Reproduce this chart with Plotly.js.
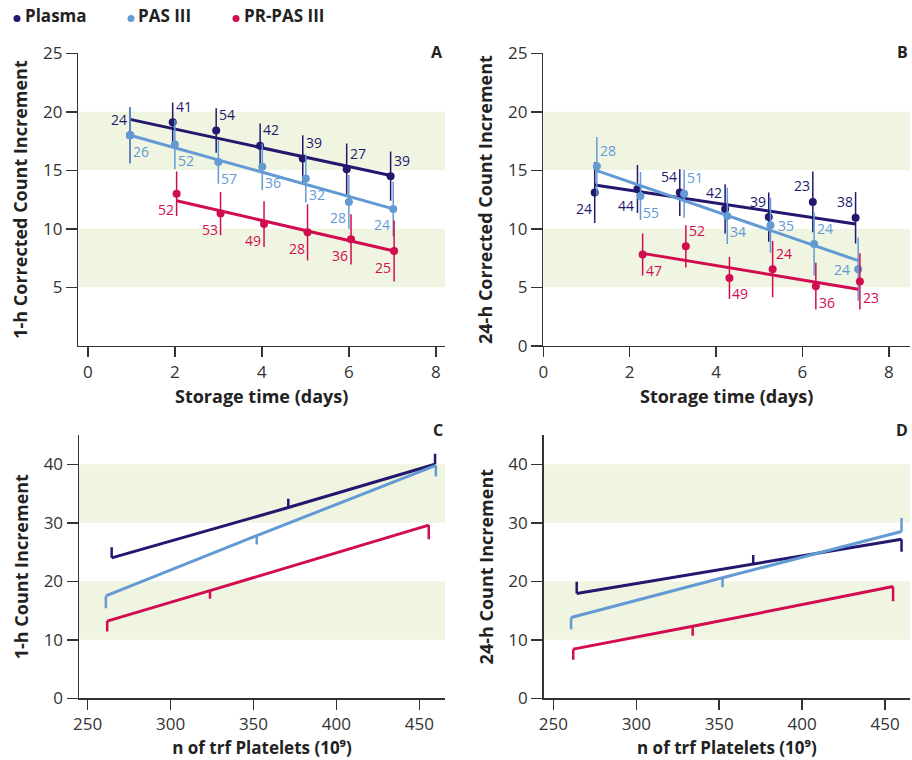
<!DOCTYPE html>
<html>
<head>
<meta charset="utf-8">
<script src="https://cdn.plot.ly/plotly-3.0.1.min.js"></script>
<style>html,body{margin:0;padding:0;background:#fff}#chart{width:912px;height:760px}</style>
</head>
<body>
<div id="chart"></div>
<script>
// ---------- DATA ----------
const seriesNames = ["Plasma", "PAS III", "PR-PAS III"];

// Panel A: 1-h CCI vs storage time
const plasmaA_x = [0.97, 1.95, 2.95, 3.96, 4.94, 5.95, 6.96];
const plasmaA_y = [18.0, 19.1, 18.4, 17.1, 16.0, 15.1, 14.5];
const plasmaA_sd = [2.4, 1.7, 1.9, 1.9, 2.0, 2.2, 2.1];
const plasmaA_n = [24, 41, 54, 42, 39, 27, 39];
const plasmaA_fitX = [0.97, 6.96];
const plasmaA_fitY = [19.35, 14.55];

const pasA_x = [0.97, 2.0, 3.0, 4.01, 5.01, 6.0, 7.02];
const pasA_y = [18.0, 17.2, 15.7, 15.3, 14.3, 12.3, 11.7];
const pasA_sd = [2.4, 2.1, 1.85, 2.0, 2.05, 2.3, 2.35];
const pasA_n = [26, 52, 57, 36, 32, 28, 24];
const pasA_fitX = [0.97, 7.02];
const pasA_fitY = [18.0, 11.7];

const prA_x = [2.04, 3.05, 4.05, 5.05, 6.05, 7.04];
const prA_y = [13.0, 11.3, 10.4, 9.7, 9.1, 8.1];
const prA_sd = [1.9, 1.85, 1.95, 2.4, 2.15, 2.6];
const prA_n = [52, 53, 49, 28, 36, 25];
const prA_fitX = [2.04, 7.04];
const prA_fitY = [12.4, 8.1];

// Panel B: 24-h CCI vs storage time
const plasmaB_x = [1.19, 2.18, 3.16, 4.21, 5.22, 6.24, 7.23];
const plasmaB_y = [13.1, 13.4, 13.1, 11.7, 11.0, 12.3, 10.95];
const plasmaB_sd = [2.6, 2.05, 2.0, 2.1, 2.1, 2.6, 2.2];
const plasmaB_n = [24, 44, 54, 42, 39, 23, 38];
const plasmaB_fitX = [1.19, 7.23];
const plasmaB_fitY = [13.74, 10.41];

const pasB_x = [1.24, 2.25, 3.26, 4.26, 5.26, 6.27, 7.29];
const pasB_y = [15.35, 12.8, 13.0, 11.1, 10.3, 8.7, 6.55];
const pasB_sd = [2.5, 2.05, 2.05, 2.4, 2.35, 2.7, 2.7];
const pasB_n = [28, 55, 51, 34, 35, 24, 24];
const pasB_fitX = [1.24, 7.29];
const pasB_fitY = [14.97, 7.28];

const prB_x = [2.3, 3.3, 4.31, 5.31, 6.31, 7.33];
const prB_y = [7.8, 8.5, 5.8, 6.55, 5.1, 5.5];
const prB_sd = [1.8, 1.8, 1.8, 2.4, 2.0, 2.4];
const prB_n = [47, 52, 49, 24, 36, 23];
const prB_fitX = [2.3, 7.29];
const prB_fitY = [7.9, 4.83];

// Panel C: 1-h CI vs number of transfused platelets
const plasmaC_x = [264.5, 371, 459.5];
const plasmaC_y = [24.0, 32.6, 40.0];
const plasmaC_up = [1.8, 1.5, 1.8];
const plasmaC_down = [0, 0, 0];
const pasC_x = [261, 352, 460];
const pasC_y = [17.5, 27.8, 39.8];
const pasC_up = [0, 0, 0];
const pasC_down = [2.1, 1.5, 1.9];
const prC_x = [261.8, 323.8, 455.7];
const prC_y = [13.2, 18.4, 29.6];
const prC_up = [0, 0, 0];
const prC_down = [1.8, 1.4, 2.4];

// Panel D: 24-h CI vs number of transfused platelets
const plasmaD_x = [264.1, 370.5, 459.9];
const plasmaD_y = [17.9, 23.0, 27.2];
const plasmaD_up = [2.0, 1.5, 0];
const plasmaD_down = [0, 0, 2.15];
const pasD_x = [260.7, 352, 459.9];
const pasD_y = [13.8, 20.6, 28.5];
const pasD_up = [0, 0, 2.3];
const pasD_down = [2.0, 1.6, 0];
const prD_x = [262, 334, 454.8];
const prD_y = [8.4, 12.3, 19.1];
const prD_up = [0, 0, 0];
const prD_down = [1.8, 1.6, 2.5];

// reference bands
const bandsTop = [[5, 10], [15, 20]];
const bandsBottom = [[10, 20], [30, 40]];

// tick values
const timeTicks = [0, 2, 4, 6, 8];
const cciTicksA = [5, 10, 15, 20, 25];
const cciTicksB = [0, 5, 10, 15, 20, 25];
const pltTicks = [250, 300, 350, 400, 450];
const ciTicks = [0, 10, 20, 30, 40];

// ---------- STYLE ----------
const COL = {plasma: "#23186e", pas: "#639ad4", pr: "#d20c50"};
const BAND = "#f0f5e2";
const AX = "#333333";
const FONT = "'Open Sans', 'Noto Sans', sans-serif";

// label placement (style only): U/D = above/below marker, L/R = side
const placeA = {
  plasma: ["UL", "UR", "UR", "UR", "UR", "UR", "UR"],
  pas: ["DR", "DR", "DR", "DR", "DR", "DL", "DL"],
  pr: ["DL", "DL", "DL", "DL", "DL", "DL"]
};
const placeB = {
  plasma: ["DL", "DL", "UL", "UL", "UL", "UL", "UL"],
  pas: ["UR", "DR", "UR", "DR", "R", "UR", "L"],
  pr: ["DR", "UR", "DR", "UR", "DR", "DR"]
};

const traces = [];
const annotations = [];

function addTimeSeries(xa, ya, x, y, sd, fx, fy, color, name) {
  traces.push({type: "scatter", mode: "lines", x: fx, y: fy, xaxis: xa, yaxis: ya,
    line: {color: color, width: 3}, showlegend: false, hoverinfo: "skip"});
  traces.push({type: "scatter", mode: "markers", x: x, y: y, xaxis: xa, yaxis: ya, name: name,
    marker: {color: color, size: 8},
    error_y: {type: "data", array: sd, visible: true, width: 0, thickness: 1.5, color: color},
    showlegend: false});
}
function addLabels(xa, ya, x, y, n, place, color) {
  for (let i = 0; i < x.length; i++) {
    const p = place[i];
    const h = p[p.length - 1];
    const v = p.length > 1 ? p[0] : "";
    annotations.push({xref: xa, yref: ya, x: x[i], y: y[i], text: String(n[i]), showarrow: false,
      xanchor: h === "L" ? "right" : "left",
      yanchor: "middle",
      xshift: (h === "L" ? -1 : 1) * (v ? 1 : 6),
      yshift: v === "U" ? 16 : (v === "D" ? -16 : 0),
      font: {family: FONT, size: 14, color: color}});
  }
}
function addPlateletSeries(xa, ya, x, y, up, down, color, name) {
  traces.push({type: "scatter", mode: "lines", x: x, y: y, xaxis: xa, yaxis: ya, name: name,
    line: {color: color, width: 3},
    error_y: {type: "data", symmetric: false, array: up, arrayminus: down, visible: true,
      width: 0, thickness: 2.5, color: color},
    showlegend: false});
}

// Panel A
addTimeSeries("x", "y", plasmaA_x, plasmaA_y, plasmaA_sd, plasmaA_fitX, plasmaA_fitY, COL.plasma, seriesNames[0]);
addTimeSeries("x", "y", pasA_x, pasA_y, pasA_sd, pasA_fitX, pasA_fitY, COL.pas, seriesNames[1]);
addTimeSeries("x", "y", prA_x, prA_y, prA_sd, prA_fitX, prA_fitY, COL.pr, seriesNames[2]);
addLabels("x", "y", plasmaA_x, plasmaA_y, plasmaA_n, placeA.plasma, COL.plasma);
addLabels("x", "y", pasA_x, pasA_y, pasA_n, placeA.pas, COL.pas);
addLabels("x", "y", prA_x, prA_y, prA_n, placeA.pr, COL.pr);

// Panel B
addTimeSeries("x2", "y2", plasmaB_x, plasmaB_y, plasmaB_sd, plasmaB_fitX, plasmaB_fitY, COL.plasma, seriesNames[0]);
addTimeSeries("x2", "y2", pasB_x, pasB_y, pasB_sd, pasB_fitX, pasB_fitY, COL.pas, seriesNames[1]);
addTimeSeries("x2", "y2", prB_x, prB_y, prB_sd, prB_fitX, prB_fitY, COL.pr, seriesNames[2]);
addLabels("x2", "y2", plasmaB_x, plasmaB_y, plasmaB_n, placeB.plasma, COL.plasma);
addLabels("x2", "y2", pasB_x, pasB_y, pasB_n, placeB.pas, COL.pas);
addLabels("x2", "y2", prB_x, prB_y, prB_n, placeB.pr, COL.pr);

// Panel C
addPlateletSeries("x3", "y3", plasmaC_x, plasmaC_y, plasmaC_up, plasmaC_down, COL.plasma, seriesNames[0]);
addPlateletSeries("x3", "y3", pasC_x, pasC_y, pasC_up, pasC_down, COL.pas, seriesNames[1]);
addPlateletSeries("x3", "y3", prC_x, prC_y, prC_up, prC_down, COL.pr, seriesNames[2]);

// Panel D
addPlateletSeries("x4", "y4", plasmaD_x, plasmaD_y, plasmaD_up, plasmaD_down, COL.plasma, seriesNames[0]);
addPlateletSeries("x4", "y4", pasD_x, pasD_y, pasD_up, pasD_down, COL.pas, seriesNames[1]);
addPlateletSeries("x4", "y4", prD_x, prD_y, prD_up, prD_down, COL.pr, seriesNames[2]);

// bands
const shapes = [];
function addBands(xa, ya, bands) {
  bands.forEach(b => shapes.push({type: "rect", xref: xa + " domain", yref: ya, x0: 0, x1: 1,
    y0: b[0], y1: b[1], fillcolor: BAND, line: {width: 0}, layer: "below"}));
}
addBands("x", "y", bandsTop);
addBands("x2", "y2", bandsTop);
addBands("x3", "y3", bandsBottom);
addBands("x4", "y4", bandsBottom);

// panel letters & legend
const W = 912, H = 760;
const px = v => v / W, py = v => 1 - v / H;
[["A", 445, 52], ["B", 910, 52], ["C", 445, 430], ["D", 910, 430]].forEach(l => {
  annotations.push({xref: "paper", yref: "paper", x: px(l[1]), y: py(l[2]), text: l[0], showarrow: false,
    xanchor: "right", yanchor: "middle", font: {family: FONT, size: 16, color: "#222", weight: 700}});
});
// legend: coloured dot + bold name
const legendDotX = [17, 131, 236];
const legendTextX = [23, 136, 242];
const legendCols = [COL.plasma, COL.pas, COL.pr];
seriesNames.forEach((nm, i) => {
  shapes.push({type: "circle", xref: "paper", yref: "paper",
    x0: px(legendDotX[i] - 3.5), x1: px(legendDotX[i] + 3.5),
    y0: py(18.5 + 3.5), y1: py(18.5 - 3.5), fillcolor: legendCols[i], line: {width: 0}});
  annotations.push({xref: "paper", yref: "paper", x: px(legendTextX[i]), y: py(16), showarrow: false,
    xanchor: "left", yanchor: "middle", text: nm,
    font: {family: FONT, size: 17, color: "#222", weight: 700}});
});

function xAxis(domain, range, ticks, title, anchor, tsize) {
  return {domain: domain, range: range, tickvals: ticks, ticks: "outside", ticklen: 10, tickwidth: 1.5,
    tickcolor: AX, showline: true, linecolor: AX, linewidth: 1.5, showgrid: false, zeroline: false,
    anchor: anchor, tickfont: {family: FONT, size: 17, color: AX},
    title: {text: title, font: {family: FONT, size: tsize, color: "#222", weight: 700}, standoff: 8}};
}
function yAxis(domain, range, ticks, title, anchor) {
  return {domain: domain, range: range, tickvals: ticks, ticks: "outside", ticklen: 11, tickwidth: 1.5,
    tickcolor: AX, showline: true, linecolor: AX, linewidth: 1.5, showgrid: false, zeroline: false,
    anchor: anchor, tickfont: {family: FONT, size: 17, color: AX},
    title: {text: title, font: {family: FONT, size: 18, color: "#222", weight: 700}, standoff: 10}};
}

const topDom = [1 - 345.8 / H, 1 - 53.3 / H];
const botDom = [1 - 698.3 / H, 1 - 435 / H];

const layout = {
  width: W, height: H, margin: {l: 0, r: 0, t: 0, b: 0},
  paper_bgcolor: "#fff", plot_bgcolor: "#fff",
  showlegend: false,
  font: {family: FONT, color: AX},
  xaxis: xAxis([px(78.3), px(445)], [-0.22, 8.21], timeTicks, "Storage time (days)", "y", 18),
  yaxis: yAxis(topDom, [0, 25], cciTicksA, "1-h Corrected Count Increment", "x"),
  xaxis2: xAxis([px(543.3), px(910)], [0, 8.49], timeTicks, "Storage time (days)", "y2", 18),
  yaxis2: yAxis(topDom, [0, 25], cciTicksB, "24-h Corrected Count Increment", "x2"),
  xaxis3: xAxis([px(79), px(445)], [244.8, 465.5], pltTicks, "n of trf Platelets (10\u2079)", "y3", 17),
  yaxis3: yAxis(botDom, [0, 45], ciTicks, "1-h Count Increment", "x3"),
  xaxis4: xAxis([px(543.7), px(910)], [244.2, 465], pltTicks, "n of trf Platelets (10\u2079)", "y4", 17),
  yaxis4: yAxis(botDom, [0, 45], ciTicks, "24-h Count Increment", "x4"),
  shapes: shapes,
  annotations: annotations
};

Plotly.newPlot("chart", traces, layout, {displayModeBar: false, staticPlot: true});
</script>
</body>
</html>
